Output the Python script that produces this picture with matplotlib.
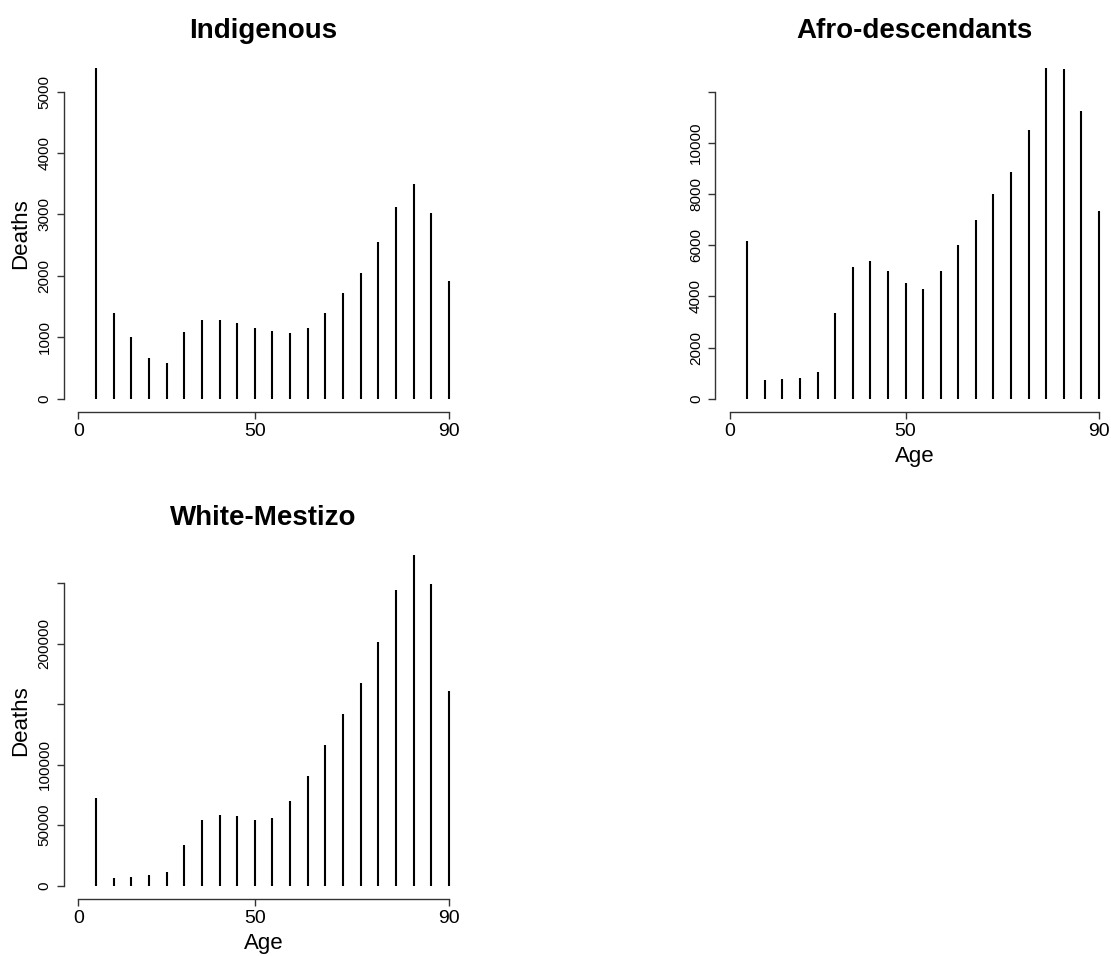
import numpy as np
import matplotlib
matplotlib.use("Agg")
import matplotlib.pyplot as plt

plt.rcParams['font.family'] = ['Liberation Sans', 'DejaVu Sans']

# age group index (1..21), axis labelled 0 / 50 / 90
pos = np.arange(1, 22)
xtick_pos = [0, 10, 21]
xtick_lab = ['0', '50', '90']

indigenous = [5380, 1390, 1004, 662, 581, 1086, 1287, 1287, 1227, 1145, 1102,
              1069, 1156, 1390, 1721, 2047, 2552, 3122, 3496, 3024, 1922]
afro = [6150, 717, 769, 821, 1029, 3336, 5147, 5394, 4977, 4521, 4300,
        5003, 6020, 6997, 8013, 8860, 10502, 12912, 12900, 11244, 7336]
white_mestizo = [72500, 6600, 7170, 8540, 11030, 33630, 54300, 58710, 57610, 54580, 56230,
                 70010, 90960, 116320, 142230, 167310, 201210, 244760, 273430, 249170, 160970]

ind_ticks = [0, 1000, 2000, 3000, 4000, 5000]
ind_labs = ['0', '1000', '2000', '3000', '4000', '5000']
afro_ticks = [0, 2000, 4000, 6000, 8000, 10000, 12000]
afro_labs = ['0', '2000', '4000', '6000', '8000', '10000', '']
wm_ticks = [0, 50000, 100000, 150000, 200000, 250000]
wm_labs = ['0', '50000', '100000', '', '200000', '']

W, H = 1111, 956
fig = plt.figure(figsize=(W / 100, H / 100), dpi=100)


def panel(left, top, right, bottom, vals, title, yt, yl, xlab, ylab):
    ax = fig.add_axes([left / W, 1 - bottom / H, (right - left) / W, (bottom - top) / H])
    ax.vlines(pos, 0, vals, color='black', lw=1.5)
    ax.set_xlim(-0.84, 21.84)
    m = max(vals)
    ax.set_ylim(-0.04 * m, 1.04 * m)
    for s in ['top', 'right']:
        ax.spines[s].set_visible(False)
    ax.spines['left'].set_bounds(yt[0], yt[-1])
    ax.spines['bottom'].set_bounds(xtick_pos[0], xtick_pos[-1])
    for s in ['left', 'bottom']:
        ax.spines[s].set_color('#333333')
        ax.spines[s].set_linewidth(1)
    ax.set_xticks(xtick_pos)
    ax.set_xticklabels(xtick_lab, fontsize=14)
    ax.set_yticks(yt)
    ax.set_yticklabels(yl, fontsize=11, rotation=90, va='center')
    ax.tick_params(axis='both', length=5, width=1, color='#333333')
    ax.tick_params(axis='x', pad=3)
    ax.tick_params(axis='y', pad=3.5)
    ax.set_title(title, fontsize=20, fontweight='bold', pad=12)
    if xlab:
        ax.set_xlabel(xlab, fontsize=16, labelpad=4)
    if ylab:
        ax.set_ylabel(ylab, fontsize=16, labelpad=5)
    return ax


panel(63.5, 55.1, 463.8, 411.9, indigenous, 'Indigenous', ind_ticks, ind_labs, None, 'Deaths')
panel(714.9, 55.1, 1113.8, 411.9, afro, 'Afro-descendants', afro_ticks, afro_labs, 'Age', None)
panel(63.5, 541.8, 463.8, 898.9, white_mestizo, 'White-Mestizo', wm_ticks, wm_labs, 'Age', 'Deaths')

fig.savefig('out.png', dpi=100, facecolor='white')
